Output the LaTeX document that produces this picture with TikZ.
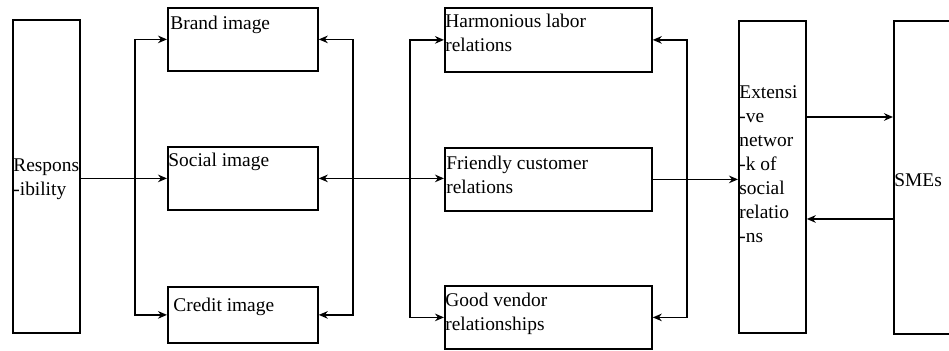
\documentclass[tikz,border=0pt]{standalone}
\usepackage{fontspec}
\setmainfont{Liberation Serif}
\usetikzlibrary{arrows.meta}

\begin{document}
\begin{tikzpicture}[x=0.5pt, y=-0.5pt,
    box/.style={draw, line width=0.9pt, anchor=north west, inner sep=0pt},
    txt/.style={anchor=base west, inner sep=0pt, align=left, font=\fontsize{9.7}{12}\selectfont},
    link/.style={line width=0.85pt, -{Stealth[length=4.5pt, width=3.8pt]}},
    both/.style={line width=0.85pt, {Stealth[length=4.5pt, width=3.8pt]}-{Stealth[length=4.5pt, width=3.8pt]}}]
    \clip (0,0) rectangle (949,351);

    % Boxes
    \node[box, minimum width=33.5pt, minimum height=156.5pt] (resp) at (12,19) {};
    \node[box, minimum width=75pt, minimum height=31.5pt] (brand) at (167,7) {};
    \node[box, minimum width=75pt, minimum height=31.5pt] (social) at (167,146) {};
    \node[box, minimum width=75pt, minimum height=28pt] (credit) at (167,286) {};
    \node[box, minimum width=103.5pt, minimum height=32pt] (harm) at (444,7) {};
    \node[box, minimum width=103.5pt, minimum height=31.5pt] (friendly) at (444,147) {};
    \node[box, minimum width=103.5pt, minimum height=31.5pt] (good) at (444,285) {};
    \node[box, minimum width=33.5pt, minimum height=156pt] (ext) at (738,20) {};
    \node[box, minimum width=40pt, minimum height=156.5pt] (smes) at (893,20) {};

    % Texts (anchored on the baseline of the last line)
    \node[txt] (resptxt) at ([shift={(1,177)}]resp.north west) {Respons\\-ibility};
    \node[txt] (brandtxt) at ([shift={(3,23)}]brand.north west) {Brand image};
    \node[txt] (socialtxt) at ([shift={(1,21)}]social.north west) {Social image};
    \node[txt] (credittxt) at ([shift={(6,26)}]credit.north west) {Credit image};
    \node[txt] (harmtxt) at ([shift={(1,45)}]harm.north west) {Harmonious labor\\relations};
    \node[txt] (friendlytxt) at ([shift={(2,47)}]friendly.north west) {Friendly customer\\relations};
    \node[txt] (goodtxt) at ([shift={(1,46)}]good.north west) {Good vendor\\relationships};
    \node[txt] (exttxt) at ([shift={(1,223)}]ext.north west) {Extensi\\-ve\\networ\\-k of\\social\\relatio\\-ns};
    \node[txt] (smestxt) at ([shift={(1,167)}]smes.north west) {SMEs};

    % Connectors
    \draw[link] (resp.east |- social.west) -- (social.west);
    \draw[both] (brand.west) -- ++(-32,0) |- (credit.west);
    \draw[both] (brand.east) -- ++(34,0) |- (credit.east);
    \draw[both] (social.east) -- (social.east -| friendly.west);
    \draw[both] (harm.west) -- ++(-34,0) |- (good.west);
    \draw[both] (harm.east) -- ++(34,0) |- (good.east);
    \draw[link] (friendly.east) -- (friendly.east -| ext.west);
    \draw[link] (ext.east |- 0,117) -- (smes.west |- 0,117);
    \draw[link] (smes.west |- 0,219) -- (ext.east |- 0,219);
\end{tikzpicture}
\end{document}
